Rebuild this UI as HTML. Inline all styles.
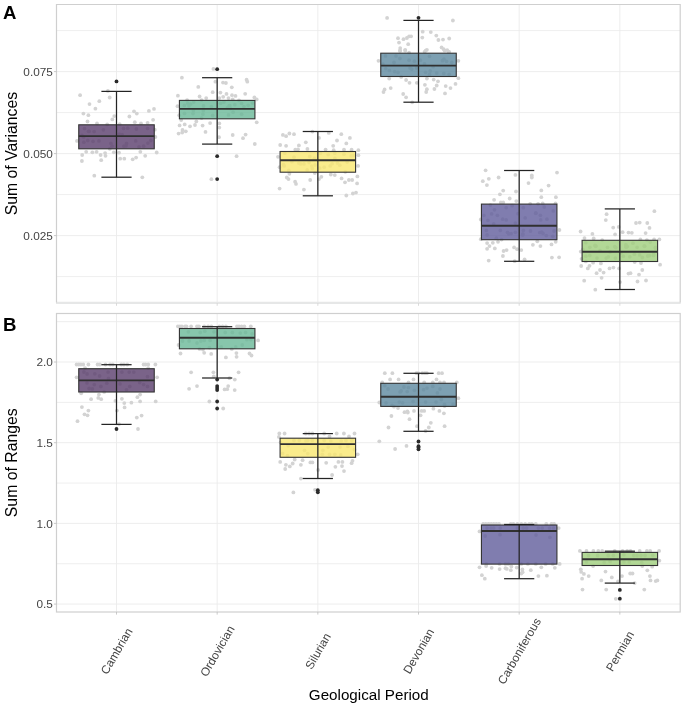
<!DOCTYPE html>
<html><head><meta charset="utf-8"><style>
html,body{margin:0;padding:0;background:#fff;overflow:hidden;width:685px;height:708px;}
svg{display:block;font-family:"Liberation Sans", sans-serif;will-change:transform;}
</style></head><body>
<svg width="685" height="708" viewBox="0 0 685 708">
<rect width="685" height="708" fill="#fff"/>
<line x1="56.5" x2="680.2" y1="276.60" y2="276.60" stroke="#eaeaea" stroke-width="0.8"/>
<line x1="56.5" x2="680.2" y1="194.60" y2="194.60" stroke="#eaeaea" stroke-width="0.8"/>
<line x1="56.5" x2="680.2" y1="112.60" y2="112.60" stroke="#eaeaea" stroke-width="0.8"/>
<line x1="56.5" x2="680.2" y1="30.60" y2="30.60" stroke="#eaeaea" stroke-width="0.8"/>
<line x1="56.5" x2="680.2" y1="235.60" y2="235.60" stroke="#ebebeb" stroke-width="0.9"/>
<line x1="56.5" x2="680.2" y1="153.60" y2="153.60" stroke="#ebebeb" stroke-width="0.9"/>
<line x1="56.5" x2="680.2" y1="71.60" y2="71.60" stroke="#ebebeb" stroke-width="0.9"/>
<line x1="116.50" x2="116.50" y1="4.5" y2="302.6" stroke="#ebebeb" stroke-width="0.9"/>
<line x1="217.17" x2="217.17" y1="4.5" y2="302.6" stroke="#ebebeb" stroke-width="0.9"/>
<line x1="317.84" x2="317.84" y1="4.5" y2="302.6" stroke="#ebebeb" stroke-width="0.9"/>
<line x1="418.51" x2="418.51" y1="4.5" y2="302.6" stroke="#ebebeb" stroke-width="0.9"/>
<line x1="519.18" x2="519.18" y1="4.5" y2="302.6" stroke="#ebebeb" stroke-width="0.9"/>
<line x1="619.85" x2="619.85" y1="4.5" y2="302.6" stroke="#ebebeb" stroke-width="0.9"/>
<circle cx="80.1" cy="95.2" r="1.9" fill="#d3d3d3"/>
<circle cx="107.9" cy="90.9" r="1.9" fill="#d3d3d3"/>
<circle cx="109.7" cy="97.5" r="1.9" fill="#d3d3d3"/>
<circle cx="99.3" cy="101.2" r="1.9" fill="#d3d3d3"/>
<circle cx="89.5" cy="104.1" r="1.9" fill="#d3d3d3"/>
<circle cx="95.4" cy="108.7" r="1.9" fill="#d3d3d3"/>
<circle cx="83.4" cy="113.6" r="1.9" fill="#d3d3d3"/>
<circle cx="88.4" cy="115.2" r="1.9" fill="#d3d3d3"/>
<circle cx="114.3" cy="116.1" r="1.9" fill="#d3d3d3"/>
<circle cx="112.3" cy="119.4" r="1.9" fill="#d3d3d3"/>
<circle cx="87.5" cy="121.5" r="1.9" fill="#d3d3d3"/>
<circle cx="97.0" cy="123.5" r="1.9" fill="#d3d3d3"/>
<circle cx="107.2" cy="124.4" r="1.9" fill="#d3d3d3"/>
<circle cx="119.7" cy="124.2" r="1.9" fill="#d3d3d3"/>
<circle cx="134.0" cy="111.3" r="1.9" fill="#d3d3d3"/>
<circle cx="136.8" cy="113.6" r="1.9" fill="#d3d3d3"/>
<circle cx="129.4" cy="116.5" r="1.9" fill="#d3d3d3"/>
<circle cx="148.9" cy="110.9" r="1.9" fill="#d3d3d3"/>
<circle cx="154.0" cy="108.9" r="1.9" fill="#d3d3d3"/>
<circle cx="153.1" cy="119.8" r="1.9" fill="#d3d3d3"/>
<circle cx="134.8" cy="122.2" r="1.9" fill="#d3d3d3"/>
<circle cx="141.0" cy="123.4" r="1.9" fill="#d3d3d3"/>
<circle cx="147.6" cy="122.8" r="1.9" fill="#d3d3d3"/>
<circle cx="154.8" cy="129.7" r="1.9" fill="#d3d3d3"/>
<circle cx="89.1" cy="131.3" r="1.9" fill="#d3d3d3"/>
<circle cx="94.1" cy="131.6" r="1.9" fill="#d3d3d3"/>
<circle cx="123.6" cy="128.4" r="1.9" fill="#d3d3d3"/>
<circle cx="136.4" cy="129.0" r="1.9" fill="#d3d3d3"/>
<circle cx="147.6" cy="128.4" r="1.9" fill="#d3d3d3"/>
<circle cx="77.0" cy="140.9" r="1.9" fill="#d3d3d3"/>
<circle cx="86.2" cy="151.8" r="1.9" fill="#d3d3d3"/>
<circle cx="82.2" cy="155.0" r="1.9" fill="#d3d3d3"/>
<circle cx="92.4" cy="152.3" r="1.9" fill="#d3d3d3"/>
<circle cx="96.6" cy="151.8" r="1.9" fill="#d3d3d3"/>
<circle cx="100.6" cy="155.0" r="1.9" fill="#d3d3d3"/>
<circle cx="105.1" cy="153.1" r="1.9" fill="#d3d3d3"/>
<circle cx="105.5" cy="155.8" r="1.9" fill="#d3d3d3"/>
<circle cx="113.8" cy="152.3" r="1.9" fill="#d3d3d3"/>
<circle cx="119.0" cy="152.7" r="1.9" fill="#d3d3d3"/>
<circle cx="81.9" cy="161.0" r="1.9" fill="#d3d3d3"/>
<circle cx="101.2" cy="160.2" r="1.9" fill="#d3d3d3"/>
<circle cx="120.2" cy="158.7" r="1.9" fill="#d3d3d3"/>
<circle cx="124.3" cy="158.7" r="1.9" fill="#d3d3d3"/>
<circle cx="132.7" cy="159.3" r="1.9" fill="#d3d3d3"/>
<circle cx="136.1" cy="157.6" r="1.9" fill="#d3d3d3"/>
<circle cx="140.3" cy="151.8" r="1.9" fill="#d3d3d3"/>
<circle cx="145.2" cy="155.8" r="1.9" fill="#d3d3d3"/>
<circle cx="156.7" cy="152.5" r="1.9" fill="#d3d3d3"/>
<circle cx="155.4" cy="137.0" r="1.9" fill="#d3d3d3"/>
<circle cx="94.3" cy="175.7" r="1.9" fill="#d3d3d3"/>
<circle cx="142.3" cy="177.3" r="1.9" fill="#d3d3d3"/>
<circle cx="109.8" cy="148.8" r="1.9" fill="#d3d3d3"/>
<circle cx="83.8" cy="142.2" r="1.9" fill="#d3d3d3"/>
<circle cx="87.8" cy="140.5" r="1.9" fill="#d3d3d3"/>
<circle cx="93.0" cy="141.3" r="1.9" fill="#d3d3d3"/>
<circle cx="98.9" cy="140.9" r="1.9" fill="#d3d3d3"/>
<circle cx="112.1" cy="146.2" r="1.9" fill="#d3d3d3"/>
<circle cx="123.9" cy="146.2" r="1.9" fill="#d3d3d3"/>
<circle cx="126.5" cy="143.5" r="1.9" fill="#d3d3d3"/>
<circle cx="135.7" cy="140.9" r="1.9" fill="#d3d3d3"/>
<circle cx="139.0" cy="146.8" r="1.9" fill="#d3d3d3"/>
<circle cx="143.6" cy="146.2" r="1.9" fill="#d3d3d3"/>
<circle cx="147.9" cy="143.1" r="1.9" fill="#d3d3d3"/>
<circle cx="150.8" cy="140.5" r="1.9" fill="#d3d3d3"/>
<circle cx="103.4" cy="129.8" r="1.9" fill="#d3d3d3"/>
<circle cx="127.7" cy="128.2" r="1.9" fill="#d3d3d3"/>
<circle cx="119.2" cy="134.1" r="1.9" fill="#d3d3d3"/>
<circle cx="83.6" cy="136.9" r="1.9" fill="#d3d3d3"/>
<circle cx="82.0" cy="135.5" r="1.9" fill="#d3d3d3"/>
<circle cx="84.5" cy="128.6" r="1.9" fill="#d3d3d3"/>
<circle cx="110.9" cy="143.3" r="1.9" fill="#d3d3d3"/>
<circle cx="88.5" cy="131.3" r="1.9" fill="#d3d3d3"/>
<circle cx="126.0" cy="145.8" r="1.9" fill="#d3d3d3"/>
<circle cx="122.2" cy="134.7" r="1.9" fill="#d3d3d3"/>
<circle cx="213.4" cy="68.9" r="1.9" fill="#d3d3d3"/>
<circle cx="181.9" cy="77.7" r="1.9" fill="#d3d3d3"/>
<circle cx="215.4" cy="81.7" r="1.9" fill="#d3d3d3"/>
<circle cx="223.0" cy="82.6" r="1.9" fill="#d3d3d3"/>
<circle cx="225.9" cy="83.0" r="1.9" fill="#d3d3d3"/>
<circle cx="246.6" cy="79.7" r="1.9" fill="#d3d3d3"/>
<circle cx="247.3" cy="81.7" r="1.9" fill="#d3d3d3"/>
<circle cx="198.3" cy="86.9" r="1.9" fill="#d3d3d3"/>
<circle cx="231.8" cy="87.3" r="1.9" fill="#d3d3d3"/>
<circle cx="212.7" cy="92.2" r="1.9" fill="#d3d3d3"/>
<circle cx="220.4" cy="92.6" r="1.9" fill="#d3d3d3"/>
<circle cx="226.5" cy="93.9" r="1.9" fill="#d3d3d3"/>
<circle cx="232.0" cy="95.2" r="1.9" fill="#d3d3d3"/>
<circle cx="235.5" cy="95.9" r="1.9" fill="#d3d3d3"/>
<circle cx="245.2" cy="93.8" r="1.9" fill="#d3d3d3"/>
<circle cx="177.9" cy="95.7" r="1.9" fill="#d3d3d3"/>
<circle cx="199.6" cy="96.5" r="1.9" fill="#d3d3d3"/>
<circle cx="206.2" cy="98.1" r="1.9" fill="#d3d3d3"/>
<circle cx="223.2" cy="96.8" r="1.9" fill="#d3d3d3"/>
<circle cx="228.5" cy="98.1" r="1.9" fill="#d3d3d3"/>
<circle cx="219.3" cy="98.1" r="1.9" fill="#d3d3d3"/>
<circle cx="254.4" cy="97.4" r="1.9" fill="#d3d3d3"/>
<circle cx="256.7" cy="99.4" r="1.9" fill="#d3d3d3"/>
<circle cx="187.1" cy="100.1" r="1.9" fill="#d3d3d3"/>
<circle cx="201.6" cy="100.1" r="1.9" fill="#d3d3d3"/>
<circle cx="232.7" cy="99.4" r="1.9" fill="#d3d3d3"/>
<circle cx="239.0" cy="100.3" r="1.9" fill="#d3d3d3"/>
<circle cx="177.5" cy="106.2" r="1.9" fill="#d3d3d3"/>
<circle cx="187.8" cy="103.4" r="1.9" fill="#d3d3d3"/>
<circle cx="193.7" cy="102.0" r="1.9" fill="#d3d3d3"/>
<circle cx="203.5" cy="106.0" r="1.9" fill="#d3d3d3"/>
<circle cx="211.4" cy="106.6" r="1.9" fill="#d3d3d3"/>
<circle cx="223.9" cy="102.0" r="1.9" fill="#d3d3d3"/>
<circle cx="229.2" cy="105.7" r="1.9" fill="#d3d3d3"/>
<circle cx="234.8" cy="104.7" r="1.9" fill="#d3d3d3"/>
<circle cx="241.6" cy="103.4" r="1.9" fill="#d3d3d3"/>
<circle cx="248.2" cy="105.3" r="1.9" fill="#d3d3d3"/>
<circle cx="179.2" cy="115.2" r="1.9" fill="#d3d3d3"/>
<circle cx="181.2" cy="120.1" r="1.9" fill="#d3d3d3"/>
<circle cx="196.3" cy="121.4" r="1.9" fill="#d3d3d3"/>
<circle cx="201.6" cy="118.1" r="1.9" fill="#d3d3d3"/>
<circle cx="179.6" cy="125.4" r="1.9" fill="#d3d3d3"/>
<circle cx="184.7" cy="124.4" r="1.9" fill="#d3d3d3"/>
<circle cx="190.0" cy="126.3" r="1.9" fill="#d3d3d3"/>
<circle cx="195.0" cy="125.0" r="1.9" fill="#d3d3d3"/>
<circle cx="202.6" cy="125.6" r="1.9" fill="#d3d3d3"/>
<circle cx="210.1" cy="123.1" r="1.9" fill="#d3d3d3"/>
<circle cx="219.3" cy="123.4" r="1.9" fill="#d3d3d3"/>
<circle cx="219.3" cy="127.6" r="1.9" fill="#d3d3d3"/>
<circle cx="182.5" cy="130.0" r="1.9" fill="#d3d3d3"/>
<circle cx="185.8" cy="131.3" r="1.9" fill="#d3d3d3"/>
<circle cx="178.6" cy="133.6" r="1.9" fill="#d3d3d3"/>
<circle cx="182.2" cy="132.6" r="1.9" fill="#d3d3d3"/>
<circle cx="205.5" cy="131.9" r="1.9" fill="#d3d3d3"/>
<circle cx="219.0" cy="137.2" r="1.9" fill="#d3d3d3"/>
<circle cx="232.7" cy="135.0" r="1.9" fill="#d3d3d3"/>
<circle cx="245.6" cy="134.6" r="1.9" fill="#d3d3d3"/>
<circle cx="243.0" cy="138.2" r="1.9" fill="#d3d3d3"/>
<circle cx="256.7" cy="122.3" r="1.9" fill="#d3d3d3"/>
<circle cx="254.8" cy="144.0" r="1.9" fill="#d3d3d3"/>
<circle cx="184.5" cy="113.5" r="1.9" fill="#d3d3d3"/>
<circle cx="193.0" cy="113.5" r="1.9" fill="#d3d3d3"/>
<circle cx="212.7" cy="115.5" r="1.9" fill="#d3d3d3"/>
<circle cx="228.5" cy="114.9" r="1.9" fill="#d3d3d3"/>
<circle cx="233.1" cy="112.2" r="1.9" fill="#d3d3d3"/>
<circle cx="241.6" cy="114.2" r="1.9" fill="#d3d3d3"/>
<circle cx="189.0" cy="106.0" r="1.9" fill="#d3d3d3"/>
<circle cx="229.8" cy="105.7" r="1.9" fill="#d3d3d3"/>
<circle cx="236.6" cy="156.2" r="1.9" fill="#d3d3d3"/>
<circle cx="211.4" cy="179.2" r="1.9" fill="#d3d3d3"/>
<circle cx="252.6" cy="103.1" r="1.9" fill="#d3d3d3"/>
<circle cx="243.9" cy="106.6" r="1.9" fill="#d3d3d3"/>
<circle cx="190.7" cy="104.1" r="1.9" fill="#d3d3d3"/>
<circle cx="202.9" cy="114.2" r="1.9" fill="#d3d3d3"/>
<circle cx="193.4" cy="110.8" r="1.9" fill="#d3d3d3"/>
<circle cx="227.5" cy="107.8" r="1.9" fill="#d3d3d3"/>
<circle cx="220.7" cy="103.3" r="1.9" fill="#d3d3d3"/>
<circle cx="184.4" cy="105.4" r="1.9" fill="#d3d3d3"/>
<circle cx="230.6" cy="108.6" r="1.9" fill="#d3d3d3"/>
<circle cx="203.3" cy="110.8" r="1.9" fill="#d3d3d3"/>
<circle cx="282.9" cy="134.9" r="1.9" fill="#d3d3d3"/>
<circle cx="286.1" cy="136.2" r="1.9" fill="#d3d3d3"/>
<circle cx="289.4" cy="133.5" r="1.9" fill="#d3d3d3"/>
<circle cx="294.0" cy="134.2" r="1.9" fill="#d3d3d3"/>
<circle cx="312.4" cy="131.6" r="1.9" fill="#d3d3d3"/>
<circle cx="328.8" cy="132.9" r="1.9" fill="#d3d3d3"/>
<circle cx="341.3" cy="134.2" r="1.9" fill="#d3d3d3"/>
<circle cx="319.0" cy="137.9" r="1.9" fill="#d3d3d3"/>
<circle cx="349.9" cy="137.9" r="1.9" fill="#d3d3d3"/>
<circle cx="305.8" cy="142.3" r="1.9" fill="#d3d3d3"/>
<circle cx="337.0" cy="140.5" r="1.9" fill="#d3d3d3"/>
<circle cx="346.3" cy="143.4" r="1.9" fill="#d3d3d3"/>
<circle cx="280.2" cy="145.0" r="1.9" fill="#d3d3d3"/>
<circle cx="286.1" cy="145.8" r="1.9" fill="#d3d3d3"/>
<circle cx="298.9" cy="145.4" r="1.9" fill="#d3d3d3"/>
<circle cx="333.2" cy="145.8" r="1.9" fill="#d3d3d3"/>
<circle cx="295.3" cy="149.7" r="1.9" fill="#d3d3d3"/>
<circle cx="298.0" cy="149.3" r="1.9" fill="#d3d3d3"/>
<circle cx="307.4" cy="148.9" r="1.9" fill="#d3d3d3"/>
<circle cx="325.6" cy="149.6" r="1.9" fill="#d3d3d3"/>
<circle cx="333.7" cy="150.2" r="1.9" fill="#d3d3d3"/>
<circle cx="344.0" cy="149.7" r="1.9" fill="#d3d3d3"/>
<circle cx="351.6" cy="149.7" r="1.9" fill="#d3d3d3"/>
<circle cx="358.4" cy="150.2" r="1.9" fill="#d3d3d3"/>
<circle cx="278.0" cy="156.8" r="1.9" fill="#d3d3d3"/>
<circle cx="358.4" cy="155.2" r="1.9" fill="#d3d3d3"/>
<circle cx="284.8" cy="153.2" r="1.9" fill="#d3d3d3"/>
<circle cx="294.0" cy="157.2" r="1.9" fill="#d3d3d3"/>
<circle cx="309.8" cy="156.5" r="1.9" fill="#d3d3d3"/>
<circle cx="320.3" cy="153.2" r="1.9" fill="#d3d3d3"/>
<circle cx="328.2" cy="154.6" r="1.9" fill="#d3d3d3"/>
<circle cx="334.8" cy="153.2" r="1.9" fill="#d3d3d3"/>
<circle cx="344.0" cy="154.2" r="1.9" fill="#d3d3d3"/>
<circle cx="351.2" cy="155.9" r="1.9" fill="#d3d3d3"/>
<circle cx="279.6" cy="167.2" r="1.9" fill="#d3d3d3"/>
<circle cx="284.2" cy="165.9" r="1.9" fill="#d3d3d3"/>
<circle cx="288.8" cy="170.5" r="1.9" fill="#d3d3d3"/>
<circle cx="289.4" cy="173.8" r="1.9" fill="#d3d3d3"/>
<circle cx="286.8" cy="177.5" r="1.9" fill="#d3d3d3"/>
<circle cx="288.5" cy="179.1" r="1.9" fill="#d3d3d3"/>
<circle cx="295.1" cy="181.7" r="1.9" fill="#d3d3d3"/>
<circle cx="296.0" cy="183.9" r="1.9" fill="#d3d3d3"/>
<circle cx="279.6" cy="188.6" r="1.9" fill="#d3d3d3"/>
<circle cx="303.9" cy="189.6" r="1.9" fill="#d3d3d3"/>
<circle cx="310.2" cy="180.0" r="1.9" fill="#d3d3d3"/>
<circle cx="314.8" cy="173.1" r="1.9" fill="#d3d3d3"/>
<circle cx="321.4" cy="176.8" r="1.9" fill="#d3d3d3"/>
<circle cx="319.0" cy="179.1" r="1.9" fill="#d3d3d3"/>
<circle cx="312.4" cy="168.5" r="1.9" fill="#d3d3d3"/>
<circle cx="330.8" cy="174.5" r="1.9" fill="#d3d3d3"/>
<circle cx="334.8" cy="175.1" r="1.9" fill="#d3d3d3"/>
<circle cx="341.6" cy="178.4" r="1.9" fill="#d3d3d3"/>
<circle cx="345.0" cy="182.3" r="1.9" fill="#d3d3d3"/>
<circle cx="348.9" cy="180.0" r="1.9" fill="#d3d3d3"/>
<circle cx="352.2" cy="180.0" r="1.9" fill="#d3d3d3"/>
<circle cx="357.1" cy="183.4" r="1.9" fill="#d3d3d3"/>
<circle cx="357.4" cy="176.4" r="1.9" fill="#d3d3d3"/>
<circle cx="358.1" cy="165.9" r="1.9" fill="#d3d3d3"/>
<circle cx="346.3" cy="195.5" r="1.9" fill="#d3d3d3"/>
<circle cx="352.9" cy="193.5" r="1.9" fill="#d3d3d3"/>
<circle cx="356.0" cy="192.6" r="1.9" fill="#d3d3d3"/>
<circle cx="345.3" cy="171.8" r="1.9" fill="#d3d3d3"/>
<circle cx="300.6" cy="163.9" r="1.9" fill="#d3d3d3"/>
<circle cx="303.9" cy="163.9" r="1.9" fill="#d3d3d3"/>
<circle cx="309.1" cy="162.6" r="1.9" fill="#d3d3d3"/>
<circle cx="324.2" cy="167.2" r="1.9" fill="#d3d3d3"/>
<circle cx="330.2" cy="165.9" r="1.9" fill="#d3d3d3"/>
<circle cx="332.1" cy="163.7" r="1.9" fill="#d3d3d3"/>
<circle cx="347.2" cy="162.0" r="1.9" fill="#d3d3d3"/>
<circle cx="307.2" cy="169.9" r="1.9" fill="#d3d3d3"/>
<circle cx="315.0" cy="165.0" r="1.9" fill="#d3d3d3"/>
<circle cx="314.4" cy="158.5" r="1.9" fill="#d3d3d3"/>
<circle cx="339.8" cy="165.2" r="1.9" fill="#d3d3d3"/>
<circle cx="298.8" cy="163.1" r="1.9" fill="#d3d3d3"/>
<circle cx="319.7" cy="168.1" r="1.9" fill="#d3d3d3"/>
<circle cx="334.9" cy="158.3" r="1.9" fill="#d3d3d3"/>
<circle cx="353.6" cy="155.5" r="1.9" fill="#d3d3d3"/>
<circle cx="311.7" cy="166.1" r="1.9" fill="#d3d3d3"/>
<circle cx="291.9" cy="161.7" r="1.9" fill="#d3d3d3"/>
<circle cx="283.5" cy="164.7" r="1.9" fill="#d3d3d3"/>
<circle cx="337.5" cy="163.1" r="1.9" fill="#d3d3d3"/>
<circle cx="387.1" cy="17.9" r="1.9" fill="#d3d3d3"/>
<circle cx="452.9" cy="20.5" r="1.9" fill="#d3d3d3"/>
<circle cx="422.7" cy="31.7" r="1.9" fill="#d3d3d3"/>
<circle cx="430.8" cy="32.1" r="1.9" fill="#d3d3d3"/>
<circle cx="398.0" cy="38.2" r="1.9" fill="#d3d3d3"/>
<circle cx="403.5" cy="39.2" r="1.9" fill="#d3d3d3"/>
<circle cx="406.9" cy="38.0" r="1.9" fill="#d3d3d3"/>
<circle cx="409.1" cy="36.3" r="1.9" fill="#d3d3d3"/>
<circle cx="411.1" cy="36.3" r="1.9" fill="#d3d3d3"/>
<circle cx="422.3" cy="37.6" r="1.9" fill="#d3d3d3"/>
<circle cx="436.3" cy="35.6" r="1.9" fill="#d3d3d3"/>
<circle cx="438.4" cy="40.0" r="1.9" fill="#d3d3d3"/>
<circle cx="443.0" cy="39.6" r="1.9" fill="#d3d3d3"/>
<circle cx="449.2" cy="38.5" r="1.9" fill="#d3d3d3"/>
<circle cx="399.0" cy="42.6" r="1.9" fill="#d3d3d3"/>
<circle cx="408.2" cy="44.2" r="1.9" fill="#d3d3d3"/>
<circle cx="400.2" cy="48.1" r="1.9" fill="#d3d3d3"/>
<circle cx="400.2" cy="50.7" r="1.9" fill="#d3d3d3"/>
<circle cx="405.2" cy="49.8" r="1.9" fill="#d3d3d3"/>
<circle cx="409.1" cy="52.7" r="1.9" fill="#d3d3d3"/>
<circle cx="426.9" cy="49.8" r="1.9" fill="#d3d3d3"/>
<circle cx="424.6" cy="51.8" r="1.9" fill="#d3d3d3"/>
<circle cx="441.6" cy="47.4" r="1.9" fill="#d3d3d3"/>
<circle cx="443.7" cy="49.2" r="1.9" fill="#d3d3d3"/>
<circle cx="447.2" cy="50.1" r="1.9" fill="#d3d3d3"/>
<circle cx="449.2" cy="51.8" r="1.9" fill="#d3d3d3"/>
<circle cx="378.5" cy="60.8" r="1.9" fill="#d3d3d3"/>
<circle cx="458.4" cy="60.8" r="1.9" fill="#d3d3d3"/>
<circle cx="389.2" cy="78.6" r="1.9" fill="#d3d3d3"/>
<circle cx="401.2" cy="76.9" r="1.9" fill="#d3d3d3"/>
<circle cx="406.1" cy="80.0" r="1.9" fill="#d3d3d3"/>
<circle cx="409.5" cy="82.8" r="1.9" fill="#d3d3d3"/>
<circle cx="416.8" cy="82.8" r="1.9" fill="#d3d3d3"/>
<circle cx="426.9" cy="78.6" r="1.9" fill="#d3d3d3"/>
<circle cx="433.7" cy="79.6" r="1.9" fill="#d3d3d3"/>
<circle cx="438.0" cy="81.3" r="1.9" fill="#d3d3d3"/>
<circle cx="424.9" cy="84.8" r="1.9" fill="#d3d3d3"/>
<circle cx="436.7" cy="85.5" r="1.9" fill="#d3d3d3"/>
<circle cx="445.7" cy="86.1" r="1.9" fill="#d3d3d3"/>
<circle cx="455.5" cy="83.9" r="1.9" fill="#d3d3d3"/>
<circle cx="458.4" cy="78.2" r="1.9" fill="#d3d3d3"/>
<circle cx="390.7" cy="88.1" r="1.9" fill="#d3d3d3"/>
<circle cx="384.6" cy="89.4" r="1.9" fill="#d3d3d3"/>
<circle cx="383.5" cy="92.0" r="1.9" fill="#d3d3d3"/>
<circle cx="403.2" cy="94.0" r="1.9" fill="#d3d3d3"/>
<circle cx="406.1" cy="97.3" r="1.9" fill="#d3d3d3"/>
<circle cx="426.9" cy="89.2" r="1.9" fill="#d3d3d3"/>
<circle cx="426.2" cy="92.0" r="1.9" fill="#d3d3d3"/>
<circle cx="434.4" cy="89.0" r="1.9" fill="#d3d3d3"/>
<circle cx="450.5" cy="88.1" r="1.9" fill="#d3d3d3"/>
<circle cx="445.0" cy="93.4" r="1.9" fill="#d3d3d3"/>
<circle cx="412.2" cy="102.3" r="1.9" fill="#d3d3d3"/>
<circle cx="385.5" cy="55.9" r="1.9" fill="#d3d3d3"/>
<circle cx="396.0" cy="55.9" r="1.9" fill="#d3d3d3"/>
<circle cx="399.9" cy="58.5" r="1.9" fill="#d3d3d3"/>
<circle cx="394.0" cy="62.5" r="1.9" fill="#d3d3d3"/>
<circle cx="409.1" cy="60.2" r="1.9" fill="#d3d3d3"/>
<circle cx="414.4" cy="61.2" r="1.9" fill="#d3d3d3"/>
<circle cx="420.3" cy="60.2" r="1.9" fill="#d3d3d3"/>
<circle cx="429.5" cy="56.3" r="1.9" fill="#d3d3d3"/>
<circle cx="443.9" cy="59.2" r="1.9" fill="#d3d3d3"/>
<circle cx="451.8" cy="62.5" r="1.9" fill="#d3d3d3"/>
<circle cx="389.4" cy="70.4" r="1.9" fill="#d3d3d3"/>
<circle cx="394.7" cy="71.7" r="1.9" fill="#d3d3d3"/>
<circle cx="398.0" cy="72.3" r="1.9" fill="#d3d3d3"/>
<circle cx="411.8" cy="69.1" r="1.9" fill="#d3d3d3"/>
<circle cx="425.6" cy="72.3" r="1.9" fill="#d3d3d3"/>
<circle cx="430.2" cy="71.0" r="1.9" fill="#d3d3d3"/>
<circle cx="436.7" cy="73.0" r="1.9" fill="#d3d3d3"/>
<circle cx="449.2" cy="74.3" r="1.9" fill="#d3d3d3"/>
<circle cx="399.9" cy="50.7" r="1.9" fill="#d3d3d3"/>
<circle cx="405.2" cy="50.7" r="1.9" fill="#d3d3d3"/>
<circle cx="425.6" cy="50.7" r="1.9" fill="#d3d3d3"/>
<circle cx="444.6" cy="50.7" r="1.9" fill="#d3d3d3"/>
<circle cx="448.5" cy="52.0" r="1.9" fill="#d3d3d3"/>
<circle cx="446.5" cy="61.3" r="1.9" fill="#d3d3d3"/>
<circle cx="433.1" cy="66.7" r="1.9" fill="#d3d3d3"/>
<circle cx="424.5" cy="64.0" r="1.9" fill="#d3d3d3"/>
<circle cx="443.8" cy="73.4" r="1.9" fill="#d3d3d3"/>
<circle cx="416.6" cy="68.0" r="1.9" fill="#d3d3d3"/>
<circle cx="385.8" cy="68.7" r="1.9" fill="#d3d3d3"/>
<circle cx="429.5" cy="74.4" r="1.9" fill="#d3d3d3"/>
<circle cx="442.5" cy="60.7" r="1.9" fill="#d3d3d3"/>
<circle cx="410.0" cy="68.1" r="1.9" fill="#d3d3d3"/>
<circle cx="382.9" cy="64.1" r="1.9" fill="#d3d3d3"/>
<circle cx="485.6" cy="170.3" r="1.9" fill="#d3d3d3"/>
<circle cx="488.8" cy="178.8" r="1.9" fill="#d3d3d3"/>
<circle cx="482.8" cy="181.2" r="1.9" fill="#d3d3d3"/>
<circle cx="486.9" cy="185.1" r="1.9" fill="#d3d3d3"/>
<circle cx="498.6" cy="177.5" r="1.9" fill="#d3d3d3"/>
<circle cx="515.4" cy="174.9" r="1.9" fill="#d3d3d3"/>
<circle cx="531.8" cy="175.5" r="1.9" fill="#d3d3d3"/>
<circle cx="531.8" cy="177.5" r="1.9" fill="#d3d3d3"/>
<circle cx="557.0" cy="172.6" r="1.9" fill="#d3d3d3"/>
<circle cx="528.5" cy="183.1" r="1.9" fill="#d3d3d3"/>
<circle cx="548.6" cy="185.6" r="1.9" fill="#d3d3d3"/>
<circle cx="503.2" cy="190.6" r="1.9" fill="#d3d3d3"/>
<circle cx="499.9" cy="194.3" r="1.9" fill="#d3d3d3"/>
<circle cx="516.0" cy="191.5" r="1.9" fill="#d3d3d3"/>
<circle cx="541.3" cy="190.4" r="1.9" fill="#d3d3d3"/>
<circle cx="541.3" cy="197.2" r="1.9" fill="#d3d3d3"/>
<circle cx="555.9" cy="197.2" r="1.9" fill="#d3d3d3"/>
<circle cx="494.1" cy="199.8" r="1.9" fill="#d3d3d3"/>
<circle cx="509.7" cy="198.5" r="1.9" fill="#d3d3d3"/>
<circle cx="516.3" cy="201.1" r="1.9" fill="#d3d3d3"/>
<circle cx="500.9" cy="202.4" r="1.9" fill="#d3d3d3"/>
<circle cx="503.2" cy="202.4" r="1.9" fill="#d3d3d3"/>
<circle cx="530.2" cy="203.8" r="1.9" fill="#d3d3d3"/>
<circle cx="538.1" cy="203.8" r="1.9" fill="#d3d3d3"/>
<circle cx="542.7" cy="203.5" r="1.9" fill="#d3d3d3"/>
<circle cx="555.5" cy="203.5" r="1.9" fill="#d3d3d3"/>
<circle cx="506.2" cy="207.7" r="1.9" fill="#d3d3d3"/>
<circle cx="512.1" cy="205.7" r="1.9" fill="#d3d3d3"/>
<circle cx="523.3" cy="207.7" r="1.9" fill="#d3d3d3"/>
<circle cx="544.3" cy="207.0" r="1.9" fill="#d3d3d3"/>
<circle cx="535.8" cy="213.0" r="1.9" fill="#d3d3d3"/>
<circle cx="490.4" cy="205.1" r="1.9" fill="#d3d3d3"/>
<circle cx="480.8" cy="219.5" r="1.9" fill="#d3d3d3"/>
<circle cx="559.4" cy="230.0" r="1.9" fill="#d3d3d3"/>
<circle cx="480.8" cy="239.2" r="1.9" fill="#d3d3d3"/>
<circle cx="487.1" cy="243.1" r="1.9" fill="#d3d3d3"/>
<circle cx="489.5" cy="246.1" r="1.9" fill="#d3d3d3"/>
<circle cx="487.1" cy="248.8" r="1.9" fill="#d3d3d3"/>
<circle cx="492.8" cy="242.8" r="1.9" fill="#d3d3d3"/>
<circle cx="498.0" cy="241.8" r="1.9" fill="#d3d3d3"/>
<circle cx="501.6" cy="239.6" r="1.9" fill="#d3d3d3"/>
<circle cx="494.8" cy="248.4" r="1.9" fill="#d3d3d3"/>
<circle cx="503.6" cy="251.0" r="1.9" fill="#d3d3d3"/>
<circle cx="506.6" cy="250.1" r="1.9" fill="#d3d3d3"/>
<circle cx="502.9" cy="256.0" r="1.9" fill="#d3d3d3"/>
<circle cx="514.1" cy="247.4" r="1.9" fill="#d3d3d3"/>
<circle cx="517.1" cy="249.2" r="1.9" fill="#d3d3d3"/>
<circle cx="521.3" cy="250.1" r="1.9" fill="#d3d3d3"/>
<circle cx="488.7" cy="260.6" r="1.9" fill="#d3d3d3"/>
<circle cx="514.7" cy="261.2" r="1.9" fill="#d3d3d3"/>
<circle cx="524.6" cy="259.3" r="1.9" fill="#d3d3d3"/>
<circle cx="532.9" cy="244.8" r="1.9" fill="#d3d3d3"/>
<circle cx="537.3" cy="241.3" r="1.9" fill="#d3d3d3"/>
<circle cx="540.4" cy="246.1" r="1.9" fill="#d3d3d3"/>
<circle cx="551.5" cy="244.4" r="1.9" fill="#d3d3d3"/>
<circle cx="555.7" cy="241.8" r="1.9" fill="#d3d3d3"/>
<circle cx="551.9" cy="257.6" r="1.9" fill="#d3d3d3"/>
<circle cx="559.1" cy="257.3" r="1.9" fill="#d3d3d3"/>
<circle cx="483.9" cy="215.3" r="1.9" fill="#d3d3d3"/>
<circle cx="497.4" cy="215.3" r="1.9" fill="#d3d3d3"/>
<circle cx="506.2" cy="219.9" r="1.9" fill="#d3d3d3"/>
<circle cx="518.0" cy="213.7" r="1.9" fill="#d3d3d3"/>
<circle cx="525.2" cy="217.9" r="1.9" fill="#d3d3d3"/>
<circle cx="535.8" cy="213.3" r="1.9" fill="#d3d3d3"/>
<circle cx="540.4" cy="215.3" r="1.9" fill="#d3d3d3"/>
<circle cx="540.7" cy="219.9" r="1.9" fill="#d3d3d3"/>
<circle cx="546.9" cy="219.2" r="1.9" fill="#d3d3d3"/>
<circle cx="493.7" cy="223.8" r="1.9" fill="#d3d3d3"/>
<circle cx="515.4" cy="223.1" r="1.9" fill="#d3d3d3"/>
<circle cx="500.3" cy="230.4" r="1.9" fill="#d3d3d3"/>
<circle cx="507.5" cy="232.3" r="1.9" fill="#d3d3d3"/>
<circle cx="515.4" cy="232.3" r="1.9" fill="#d3d3d3"/>
<circle cx="523.3" cy="230.4" r="1.9" fill="#d3d3d3"/>
<circle cx="530.5" cy="231.0" r="1.9" fill="#d3d3d3"/>
<circle cx="539.7" cy="232.6" r="1.9" fill="#d3d3d3"/>
<circle cx="541.7" cy="232.1" r="1.9" fill="#d3d3d3"/>
<circle cx="554.1" cy="231.0" r="1.9" fill="#d3d3d3"/>
<circle cx="487.1" cy="235.0" r="1.9" fill="#d3d3d3"/>
<circle cx="522.6" cy="235.0" r="1.9" fill="#d3d3d3"/>
<circle cx="546.3" cy="235.6" r="1.9" fill="#d3d3d3"/>
<circle cx="552.8" cy="236.3" r="1.9" fill="#d3d3d3"/>
<circle cx="496.3" cy="238.2" r="1.9" fill="#d3d3d3"/>
<circle cx="494.5" cy="209.8" r="1.9" fill="#d3d3d3"/>
<circle cx="486.3" cy="230.4" r="1.9" fill="#d3d3d3"/>
<circle cx="491.6" cy="213.9" r="1.9" fill="#d3d3d3"/>
<circle cx="511.1" cy="233.6" r="1.9" fill="#d3d3d3"/>
<circle cx="487.9" cy="220.3" r="1.9" fill="#d3d3d3"/>
<circle cx="522.9" cy="234.0" r="1.9" fill="#d3d3d3"/>
<circle cx="543.0" cy="233.4" r="1.9" fill="#d3d3d3"/>
<circle cx="502.7" cy="219.2" r="1.9" fill="#d3d3d3"/>
<circle cx="508.7" cy="234.0" r="1.9" fill="#d3d3d3"/>
<circle cx="553.3" cy="210.9" r="1.9" fill="#d3d3d3"/>
<circle cx="606.6" cy="214.2" r="1.9" fill="#d3d3d3"/>
<circle cx="654.4" cy="211.2" r="1.9" fill="#d3d3d3"/>
<circle cx="605.8" cy="220.1" r="1.9" fill="#d3d3d3"/>
<circle cx="636.0" cy="223.0" r="1.9" fill="#d3d3d3"/>
<circle cx="639.7" cy="222.6" r="1.9" fill="#d3d3d3"/>
<circle cx="647.3" cy="223.0" r="1.9" fill="#d3d3d3"/>
<circle cx="649.5" cy="227.9" r="1.9" fill="#d3d3d3"/>
<circle cx="613.2" cy="227.6" r="1.9" fill="#d3d3d3"/>
<circle cx="618.7" cy="226.9" r="1.9" fill="#d3d3d3"/>
<circle cx="580.6" cy="231.5" r="1.9" fill="#d3d3d3"/>
<circle cx="592.4" cy="233.9" r="1.9" fill="#d3d3d3"/>
<circle cx="615.1" cy="234.4" r="1.9" fill="#d3d3d3"/>
<circle cx="622.6" cy="232.2" r="1.9" fill="#d3d3d3"/>
<circle cx="628.5" cy="232.6" r="1.9" fill="#d3d3d3"/>
<circle cx="631.8" cy="232.8" r="1.9" fill="#d3d3d3"/>
<circle cx="645.6" cy="233.1" r="1.9" fill="#d3d3d3"/>
<circle cx="584.5" cy="238.1" r="1.9" fill="#d3d3d3"/>
<circle cx="593.7" cy="238.4" r="1.9" fill="#d3d3d3"/>
<circle cx="602.2" cy="240.1" r="1.9" fill="#d3d3d3"/>
<circle cx="640.4" cy="239.4" r="1.9" fill="#d3d3d3"/>
<circle cx="646.9" cy="240.1" r="1.9" fill="#d3d3d3"/>
<circle cx="654.1" cy="239.4" r="1.9" fill="#d3d3d3"/>
<circle cx="659.4" cy="239.4" r="1.9" fill="#d3d3d3"/>
<circle cx="585.8" cy="242.7" r="1.9" fill="#d3d3d3"/>
<circle cx="595.0" cy="245.3" r="1.9" fill="#d3d3d3"/>
<circle cx="589.8" cy="247.3" r="1.9" fill="#d3d3d3"/>
<circle cx="607.5" cy="247.3" r="1.9" fill="#d3d3d3"/>
<circle cx="614.7" cy="246.6" r="1.9" fill="#d3d3d3"/>
<circle cx="625.9" cy="244.7" r="1.9" fill="#d3d3d3"/>
<circle cx="627.2" cy="246.6" r="1.9" fill="#d3d3d3"/>
<circle cx="637.1" cy="247.3" r="1.9" fill="#d3d3d3"/>
<circle cx="644.3" cy="246.0" r="1.9" fill="#d3d3d3"/>
<circle cx="650.2" cy="242.0" r="1.9" fill="#d3d3d3"/>
<circle cx="655.5" cy="247.3" r="1.9" fill="#d3d3d3"/>
<circle cx="580.8" cy="251.6" r="1.9" fill="#d3d3d3"/>
<circle cx="581.6" cy="258.8" r="1.9" fill="#d3d3d3"/>
<circle cx="581.2" cy="266.0" r="1.9" fill="#d3d3d3"/>
<circle cx="585.8" cy="261.4" r="1.9" fill="#d3d3d3"/>
<circle cx="589.5" cy="265.8" r="1.9" fill="#d3d3d3"/>
<circle cx="587.8" cy="268.4" r="1.9" fill="#d3d3d3"/>
<circle cx="593.1" cy="262.7" r="1.9" fill="#d3d3d3"/>
<circle cx="600.9" cy="263.4" r="1.9" fill="#d3d3d3"/>
<circle cx="600.0" cy="270.0" r="1.9" fill="#d3d3d3"/>
<circle cx="603.6" cy="272.6" r="1.9" fill="#d3d3d3"/>
<circle cx="596.6" cy="273.2" r="1.9" fill="#d3d3d3"/>
<circle cx="601.6" cy="277.8" r="1.9" fill="#d3d3d3"/>
<circle cx="584.2" cy="280.7" r="1.9" fill="#d3d3d3"/>
<circle cx="609.5" cy="268.4" r="1.9" fill="#d3d3d3"/>
<circle cx="613.4" cy="267.6" r="1.9" fill="#d3d3d3"/>
<circle cx="619.1" cy="268.4" r="1.9" fill="#d3d3d3"/>
<circle cx="620.0" cy="282.1" r="1.9" fill="#d3d3d3"/>
<circle cx="595.3" cy="289.7" r="1.9" fill="#d3d3d3"/>
<circle cx="628.5" cy="273.6" r="1.9" fill="#d3d3d3"/>
<circle cx="630.5" cy="273.2" r="1.9" fill="#d3d3d3"/>
<circle cx="634.7" cy="262.1" r="1.9" fill="#d3d3d3"/>
<circle cx="641.0" cy="263.1" r="1.9" fill="#d3d3d3"/>
<circle cx="642.3" cy="270.0" r="1.9" fill="#d3d3d3"/>
<circle cx="639.0" cy="274.6" r="1.9" fill="#d3d3d3"/>
<circle cx="637.5" cy="281.5" r="1.9" fill="#d3d3d3"/>
<circle cx="646.0" cy="280.5" r="1.9" fill="#d3d3d3"/>
<circle cx="660.1" cy="264.7" r="1.9" fill="#d3d3d3"/>
<circle cx="595.7" cy="245.7" r="1.9" fill="#d3d3d3"/>
<circle cx="615.8" cy="247.6" r="1.9" fill="#d3d3d3"/>
<circle cx="625.9" cy="247.0" r="1.9" fill="#d3d3d3"/>
<circle cx="644.7" cy="246.3" r="1.9" fill="#d3d3d3"/>
<circle cx="655.5" cy="248.3" r="1.9" fill="#d3d3d3"/>
<circle cx="585.8" cy="256.2" r="1.9" fill="#d3d3d3"/>
<circle cx="589.8" cy="255.5" r="1.9" fill="#d3d3d3"/>
<circle cx="597.0" cy="258.1" r="1.9" fill="#d3d3d3"/>
<circle cx="606.2" cy="258.1" r="1.9" fill="#d3d3d3"/>
<circle cx="608.4" cy="256.8" r="1.9" fill="#d3d3d3"/>
<circle cx="615.4" cy="258.1" r="1.9" fill="#d3d3d3"/>
<circle cx="623.3" cy="256.2" r="1.9" fill="#d3d3d3"/>
<circle cx="629.8" cy="256.8" r="1.9" fill="#d3d3d3"/>
<circle cx="634.4" cy="254.2" r="1.9" fill="#d3d3d3"/>
<circle cx="639.7" cy="254.9" r="1.9" fill="#d3d3d3"/>
<circle cx="642.3" cy="257.5" r="1.9" fill="#d3d3d3"/>
<circle cx="653.5" cy="255.5" r="1.9" fill="#d3d3d3"/>
<circle cx="595.7" cy="246.3" r="1.9" fill="#d3d3d3"/>
<circle cx="600.0" cy="250.6" r="1.9" fill="#d3d3d3"/>
<circle cx="626.5" cy="246.8" r="1.9" fill="#d3d3d3"/>
<circle cx="582.9" cy="249.5" r="1.9" fill="#d3d3d3"/>
<circle cx="610.1" cy="252.0" r="1.9" fill="#d3d3d3"/>
<circle cx="653.6" cy="254.2" r="1.9" fill="#d3d3d3"/>
<circle cx="621.0" cy="252.9" r="1.9" fill="#d3d3d3"/>
<circle cx="633.0" cy="243.2" r="1.9" fill="#d3d3d3"/>
<circle cx="649.6" cy="255.7" r="1.9" fill="#d3d3d3"/>
<circle cx="647.7" cy="256.0" r="1.9" fill="#d3d3d3"/>
<rect x="78.75" y="124.80" width="75.50" height="24.00" fill="rgba(89,60,108,0.80)" stroke="#333" stroke-width="1.1"/>
<line x1="78.75" x2="154.25" y1="136.10" y2="136.10" stroke="#303030" stroke-width="1.9"/>
<circle cx="116.50" cy="81.40" r="1.9" fill="#2a2a2a"/>
<rect x="179.42" y="100.40" width="75.50" height="18.40" fill="rgba(105,184,151,0.80)" stroke="#333" stroke-width="1.1"/>
<line x1="179.42" x2="254.92" y1="108.90" y2="108.90" stroke="#303030" stroke-width="1.9"/>
<circle cx="217.17" cy="69.20" r="1.9" fill="#2a2a2a"/>
<circle cx="217.17" cy="156.20" r="1.9" fill="#2a2a2a"/>
<circle cx="217.17" cy="179.10" r="1.9" fill="#2a2a2a"/>
<rect x="280.09" y="151.50" width="75.50" height="20.70" fill="rgba(249,231,111,0.80)" stroke="#333" stroke-width="1.1"/>
<line x1="280.09" x2="355.59" y1="160.30" y2="160.30" stroke="#303030" stroke-width="1.9"/>
<rect x="380.76" y="53.20" width="75.50" height="23.30" fill="rgba(93,136,159,0.80)" stroke="#333" stroke-width="1.1"/>
<line x1="380.76" x2="456.26" y1="65.60" y2="65.60" stroke="#303030" stroke-width="1.9"/>
<circle cx="418.51" cy="17.80" r="1.9" fill="#2a2a2a"/>
<rect x="481.43" y="204.10" width="75.50" height="35.60" fill="rgba(96,93,155,0.80)" stroke="#333" stroke-width="1.1"/>
<line x1="481.43" x2="556.93" y1="225.70" y2="225.70" stroke="#303030" stroke-width="1.9"/>
<rect x="582.10" y="240.30" width="75.50" height="21.20" fill="rgba(159,206,124,0.80)" stroke="#333" stroke-width="1.1"/>
<line x1="582.10" x2="657.60" y1="251.80" y2="251.80" stroke="#303030" stroke-width="1.9"/>
<line x1="116.50" x2="116.50" y1="91.40" y2="177.20" stroke="#242424" stroke-width="1.25"/>
<line x1="101.40" x2="131.60" y1="91.40" y2="91.40" stroke="#242424" stroke-width="1.25"/>
<line x1="101.40" x2="131.60" y1="177.20" y2="177.20" stroke="#242424" stroke-width="1.25"/>
<line x1="217.17" x2="217.17" y1="77.70" y2="144.10" stroke="#242424" stroke-width="1.25"/>
<line x1="202.07" x2="232.27" y1="77.70" y2="77.70" stroke="#242424" stroke-width="1.25"/>
<line x1="202.07" x2="232.27" y1="144.10" y2="144.10" stroke="#242424" stroke-width="1.25"/>
<line x1="317.84" x2="317.84" y1="131.50" y2="195.80" stroke="#242424" stroke-width="1.25"/>
<line x1="302.74" x2="332.94" y1="131.50" y2="131.50" stroke="#242424" stroke-width="1.25"/>
<line x1="302.74" x2="332.94" y1="195.80" y2="195.80" stroke="#242424" stroke-width="1.25"/>
<line x1="418.51" x2="418.51" y1="20.40" y2="102.20" stroke="#242424" stroke-width="1.25"/>
<line x1="403.41" x2="433.61" y1="20.40" y2="20.40" stroke="#242424" stroke-width="1.25"/>
<line x1="403.41" x2="433.61" y1="102.20" y2="102.20" stroke="#242424" stroke-width="1.25"/>
<line x1="519.18" x2="519.18" y1="170.50" y2="261.30" stroke="#242424" stroke-width="1.25"/>
<line x1="504.08" x2="534.28" y1="170.50" y2="170.50" stroke="#242424" stroke-width="1.25"/>
<line x1="504.08" x2="534.28" y1="261.30" y2="261.30" stroke="#242424" stroke-width="1.25"/>
<line x1="619.85" x2="619.85" y1="208.90" y2="289.50" stroke="#242424" stroke-width="1.25"/>
<line x1="604.75" x2="634.95" y1="208.90" y2="208.90" stroke="#242424" stroke-width="1.25"/>
<line x1="604.75" x2="634.95" y1="289.50" y2="289.50" stroke="#242424" stroke-width="1.25"/>
<line x1="56.0" x2="680.7" y1="302.9" y2="302.9" stroke="#e6e7e7" stroke-width="2.2"/>
<line x1="116.50" x2="116.50" y1="303" y2="305.8" stroke="#d6d6d6" stroke-width="0.9"/>
<line x1="217.17" x2="217.17" y1="303" y2="305.8" stroke="#d6d6d6" stroke-width="0.9"/>
<line x1="317.84" x2="317.84" y1="303" y2="305.8" stroke="#d6d6d6" stroke-width="0.9"/>
<line x1="418.51" x2="418.51" y1="303" y2="305.8" stroke="#d6d6d6" stroke-width="0.9"/>
<line x1="519.18" x2="519.18" y1="303" y2="305.8" stroke="#d6d6d6" stroke-width="0.9"/>
<line x1="619.85" x2="619.85" y1="303" y2="305.8" stroke="#d6d6d6" stroke-width="0.9"/>
<path d="M56.5,302.6 V4.5 H680.2 V302.6" fill="none" stroke="#cfcfcf" stroke-width="1.2"/>
<line x1="53.9" x2="56.5" y1="235.60" y2="235.60" stroke="#bdbdbd" stroke-width="0.8"/>
<text x="52.9" y="239.90" text-anchor="end" font-size="11.8" fill="#444">0.025</text>
<line x1="53.9" x2="56.5" y1="153.60" y2="153.60" stroke="#bdbdbd" stroke-width="0.8"/>
<text x="52.9" y="157.90" text-anchor="end" font-size="11.8" fill="#444">0.050</text>
<line x1="53.9" x2="56.5" y1="71.60" y2="71.60" stroke="#bdbdbd" stroke-width="0.8"/>
<text x="52.9" y="75.90" text-anchor="end" font-size="11.8" fill="#444">0.075</text>
<text transform="translate(16.6,153.55) rotate(-90)" text-anchor="middle" font-size="15.8" fill="#000">Sum of Variances</text>
<text x="3" y="18.8" font-size="18.6" font-weight="bold" fill="#000">A</text>
<line x1="56.5" x2="680.2" y1="563.75" y2="563.75" stroke="#eaeaea" stroke-width="0.8"/>
<line x1="56.5" x2="680.2" y1="483.05" y2="483.05" stroke="#eaeaea" stroke-width="0.8"/>
<line x1="56.5" x2="680.2" y1="402.35" y2="402.35" stroke="#eaeaea" stroke-width="0.8"/>
<line x1="56.5" x2="680.2" y1="321.65" y2="321.65" stroke="#eaeaea" stroke-width="0.8"/>
<line x1="56.5" x2="680.2" y1="604.10" y2="604.10" stroke="#ebebeb" stroke-width="0.9"/>
<line x1="56.5" x2="680.2" y1="523.40" y2="523.40" stroke="#ebebeb" stroke-width="0.9"/>
<line x1="56.5" x2="680.2" y1="442.70" y2="442.70" stroke="#ebebeb" stroke-width="0.9"/>
<line x1="56.5" x2="680.2" y1="362.00" y2="362.00" stroke="#ebebeb" stroke-width="0.9"/>
<line x1="116.50" x2="116.50" y1="313.5" y2="612.0" stroke="#ebebeb" stroke-width="0.9"/>
<line x1="217.17" x2="217.17" y1="313.5" y2="612.0" stroke="#ebebeb" stroke-width="0.9"/>
<line x1="317.84" x2="317.84" y1="313.5" y2="612.0" stroke="#ebebeb" stroke-width="0.9"/>
<line x1="418.51" x2="418.51" y1="313.5" y2="612.0" stroke="#ebebeb" stroke-width="0.9"/>
<line x1="519.18" x2="519.18" y1="313.5" y2="612.0" stroke="#ebebeb" stroke-width="0.9"/>
<line x1="619.85" x2="619.85" y1="313.5" y2="612.0" stroke="#ebebeb" stroke-width="0.9"/>
<circle cx="76.6" cy="364.5" r="1.9" fill="#d3d3d3"/>
<circle cx="78.8" cy="364.5" r="1.9" fill="#d3d3d3"/>
<circle cx="80.9" cy="364.5" r="1.9" fill="#d3d3d3"/>
<circle cx="83.2" cy="364.5" r="1.9" fill="#d3d3d3"/>
<circle cx="88.4" cy="364.5" r="1.9" fill="#d3d3d3"/>
<circle cx="97.6" cy="364.5" r="1.9" fill="#d3d3d3"/>
<circle cx="99.9" cy="364.5" r="1.9" fill="#d3d3d3"/>
<circle cx="105.5" cy="364.5" r="1.9" fill="#d3d3d3"/>
<circle cx="110.1" cy="364.5" r="1.9" fill="#d3d3d3"/>
<circle cx="112.7" cy="364.5" r="1.9" fill="#d3d3d3"/>
<circle cx="121.3" cy="364.5" r="1.9" fill="#d3d3d3"/>
<circle cx="123.9" cy="364.5" r="1.9" fill="#d3d3d3"/>
<circle cx="127.2" cy="364.5" r="1.9" fill="#d3d3d3"/>
<circle cx="143.6" cy="364.5" r="1.9" fill="#d3d3d3"/>
<circle cx="145.6" cy="364.5" r="1.9" fill="#d3d3d3"/>
<circle cx="148.2" cy="364.5" r="1.9" fill="#d3d3d3"/>
<circle cx="155.4" cy="364.5" r="1.9" fill="#d3d3d3"/>
<circle cx="76.6" cy="377.3" r="1.9" fill="#d3d3d3"/>
<circle cx="157.1" cy="377.3" r="1.9" fill="#d3d3d3"/>
<circle cx="85.1" cy="368.1" r="1.9" fill="#d3d3d3"/>
<circle cx="148.2" cy="368.1" r="1.9" fill="#d3d3d3"/>
<circle cx="87.1" cy="374.0" r="1.9" fill="#d3d3d3"/>
<circle cx="99.6" cy="376.0" r="1.9" fill="#d3d3d3"/>
<circle cx="108.1" cy="372.1" r="1.9" fill="#d3d3d3"/>
<circle cx="121.9" cy="372.1" r="1.9" fill="#d3d3d3"/>
<circle cx="129.2" cy="372.1" r="1.9" fill="#d3d3d3"/>
<circle cx="133.8" cy="372.1" r="1.9" fill="#d3d3d3"/>
<circle cx="147.5" cy="376.7" r="1.9" fill="#d3d3d3"/>
<circle cx="94.3" cy="384.6" r="1.9" fill="#d3d3d3"/>
<circle cx="100.9" cy="386.5" r="1.9" fill="#d3d3d3"/>
<circle cx="106.8" cy="383.2" r="1.9" fill="#d3d3d3"/>
<circle cx="120.0" cy="383.9" r="1.9" fill="#d3d3d3"/>
<circle cx="129.8" cy="386.5" r="1.9" fill="#d3d3d3"/>
<circle cx="139.7" cy="382.6" r="1.9" fill="#d3d3d3"/>
<circle cx="143.6" cy="384.6" r="1.9" fill="#d3d3d3"/>
<circle cx="147.5" cy="386.5" r="1.9" fill="#d3d3d3"/>
<circle cx="89.1" cy="388.5" r="1.9" fill="#d3d3d3"/>
<circle cx="92.4" cy="388.9" r="1.9" fill="#d3d3d3"/>
<circle cx="126.5" cy="389.8" r="1.9" fill="#d3d3d3"/>
<circle cx="81.2" cy="393.3" r="1.9" fill="#d3d3d3"/>
<circle cx="98.9" cy="394.6" r="1.9" fill="#d3d3d3"/>
<circle cx="104.2" cy="391.9" r="1.9" fill="#d3d3d3"/>
<circle cx="91.1" cy="399.2" r="1.9" fill="#d3d3d3"/>
<circle cx="98.3" cy="397.9" r="1.9" fill="#d3d3d3"/>
<circle cx="101.2" cy="399.2" r="1.9" fill="#d3d3d3"/>
<circle cx="115.4" cy="400.9" r="1.9" fill="#d3d3d3"/>
<circle cx="121.9" cy="398.8" r="1.9" fill="#d3d3d3"/>
<circle cx="124.3" cy="403.1" r="1.9" fill="#d3d3d3"/>
<circle cx="124.6" cy="407.4" r="1.9" fill="#d3d3d3"/>
<circle cx="131.4" cy="402.7" r="1.9" fill="#d3d3d3"/>
<circle cx="137.4" cy="397.2" r="1.9" fill="#d3d3d3"/>
<circle cx="140.1" cy="394.6" r="1.9" fill="#d3d3d3"/>
<circle cx="140.1" cy="401.4" r="1.9" fill="#d3d3d3"/>
<circle cx="155.7" cy="401.4" r="1.9" fill="#d3d3d3"/>
<circle cx="81.9" cy="407.1" r="1.9" fill="#d3d3d3"/>
<circle cx="88.4" cy="410.6" r="1.9" fill="#d3d3d3"/>
<circle cx="84.5" cy="414.3" r="1.9" fill="#d3d3d3"/>
<circle cx="87.5" cy="415.3" r="1.9" fill="#d3d3d3"/>
<circle cx="77.5" cy="421.2" r="1.9" fill="#d3d3d3"/>
<circle cx="116.9" cy="410.6" r="1.9" fill="#d3d3d3"/>
<circle cx="136.8" cy="417.6" r="1.9" fill="#d3d3d3"/>
<circle cx="141.6" cy="415.6" r="1.9" fill="#d3d3d3"/>
<circle cx="119.0" cy="424.1" r="1.9" fill="#d3d3d3"/>
<circle cx="138.0" cy="429.0" r="1.9" fill="#d3d3d3"/>
<circle cx="108.5" cy="378.4" r="1.9" fill="#d3d3d3"/>
<circle cx="87.0" cy="382.9" r="1.9" fill="#d3d3d3"/>
<circle cx="83.9" cy="372.0" r="1.9" fill="#d3d3d3"/>
<circle cx="94.8" cy="373.8" r="1.9" fill="#d3d3d3"/>
<circle cx="177.9" cy="326.3" r="1.9" fill="#d3d3d3"/>
<circle cx="179.9" cy="326.3" r="1.9" fill="#d3d3d3"/>
<circle cx="181.9" cy="326.3" r="1.9" fill="#d3d3d3"/>
<circle cx="185.1" cy="326.3" r="1.9" fill="#d3d3d3"/>
<circle cx="186.5" cy="326.3" r="1.9" fill="#d3d3d3"/>
<circle cx="191.1" cy="326.3" r="1.9" fill="#d3d3d3"/>
<circle cx="197.0" cy="326.3" r="1.9" fill="#d3d3d3"/>
<circle cx="198.9" cy="326.3" r="1.9" fill="#d3d3d3"/>
<circle cx="204.2" cy="326.3" r="1.9" fill="#d3d3d3"/>
<circle cx="208.1" cy="326.3" r="1.9" fill="#d3d3d3"/>
<circle cx="211.4" cy="326.3" r="1.9" fill="#d3d3d3"/>
<circle cx="219.3" cy="326.3" r="1.9" fill="#d3d3d3"/>
<circle cx="222.6" cy="326.3" r="1.9" fill="#d3d3d3"/>
<circle cx="225.9" cy="326.3" r="1.9" fill="#d3d3d3"/>
<circle cx="237.0" cy="326.3" r="1.9" fill="#d3d3d3"/>
<circle cx="239.0" cy="326.3" r="1.9" fill="#d3d3d3"/>
<circle cx="241.6" cy="326.3" r="1.9" fill="#d3d3d3"/>
<circle cx="244.3" cy="326.3" r="1.9" fill="#d3d3d3"/>
<circle cx="250.8" cy="326.3" r="1.9" fill="#d3d3d3"/>
<circle cx="258.1" cy="340.4" r="1.9" fill="#d3d3d3"/>
<circle cx="178.6" cy="345.0" r="1.9" fill="#d3d3d3"/>
<circle cx="180.5" cy="353.5" r="1.9" fill="#d3d3d3"/>
<circle cx="204.2" cy="352.8" r="1.9" fill="#d3d3d3"/>
<circle cx="211.2" cy="353.9" r="1.9" fill="#d3d3d3"/>
<circle cx="236.4" cy="353.1" r="1.9" fill="#d3d3d3"/>
<circle cx="236.6" cy="356.8" r="1.9" fill="#d3d3d3"/>
<circle cx="225.9" cy="357.4" r="1.9" fill="#d3d3d3"/>
<circle cx="249.5" cy="353.5" r="1.9" fill="#d3d3d3"/>
<circle cx="251.5" cy="355.5" r="1.9" fill="#d3d3d3"/>
<circle cx="231.8" cy="348.9" r="1.9" fill="#d3d3d3"/>
<circle cx="199.6" cy="348.9" r="1.9" fill="#d3d3d3"/>
<circle cx="202.9" cy="349.6" r="1.9" fill="#d3d3d3"/>
<circle cx="209.4" cy="347.6" r="1.9" fill="#d3d3d3"/>
<circle cx="188.4" cy="331.8" r="1.9" fill="#d3d3d3"/>
<circle cx="200.2" cy="332.5" r="1.9" fill="#d3d3d3"/>
<circle cx="204.8" cy="331.2" r="1.9" fill="#d3d3d3"/>
<circle cx="214.0" cy="331.8" r="1.9" fill="#d3d3d3"/>
<circle cx="225.2" cy="332.5" r="1.9" fill="#d3d3d3"/>
<circle cx="232.4" cy="332.5" r="1.9" fill="#d3d3d3"/>
<circle cx="240.3" cy="333.1" r="1.9" fill="#d3d3d3"/>
<circle cx="245.6" cy="332.5" r="1.9" fill="#d3d3d3"/>
<circle cx="252.1" cy="333.8" r="1.9" fill="#d3d3d3"/>
<circle cx="182.5" cy="341.0" r="1.9" fill="#d3d3d3"/>
<circle cx="189.1" cy="341.0" r="1.9" fill="#d3d3d3"/>
<circle cx="197.0" cy="343.0" r="1.9" fill="#d3d3d3"/>
<circle cx="200.9" cy="341.0" r="1.9" fill="#d3d3d3"/>
<circle cx="204.2" cy="340.4" r="1.9" fill="#d3d3d3"/>
<circle cx="210.1" cy="340.4" r="1.9" fill="#d3d3d3"/>
<circle cx="221.3" cy="346.9" r="1.9" fill="#d3d3d3"/>
<circle cx="235.7" cy="346.9" r="1.9" fill="#d3d3d3"/>
<circle cx="242.3" cy="345.0" r="1.9" fill="#d3d3d3"/>
<circle cx="246.9" cy="339.7" r="1.9" fill="#d3d3d3"/>
<circle cx="250.8" cy="339.7" r="1.9" fill="#d3d3d3"/>
<circle cx="191.1" cy="372.3" r="1.9" fill="#d3d3d3"/>
<circle cx="213.4" cy="372.3" r="1.9" fill="#d3d3d3"/>
<circle cx="213.8" cy="376.3" r="1.9" fill="#d3d3d3"/>
<circle cx="238.6" cy="372.3" r="1.9" fill="#d3d3d3"/>
<circle cx="229.5" cy="378.2" r="1.9" fill="#d3d3d3"/>
<circle cx="234.8" cy="379.6" r="1.9" fill="#d3d3d3"/>
<circle cx="197.0" cy="386.1" r="1.9" fill="#d3d3d3"/>
<circle cx="189.1" cy="388.8" r="1.9" fill="#d3d3d3"/>
<circle cx="228.2" cy="386.1" r="1.9" fill="#d3d3d3"/>
<circle cx="224.6" cy="389.4" r="1.9" fill="#d3d3d3"/>
<circle cx="227.2" cy="389.2" r="1.9" fill="#d3d3d3"/>
<circle cx="234.7" cy="390.1" r="1.9" fill="#d3d3d3"/>
<circle cx="209.4" cy="401.5" r="1.9" fill="#d3d3d3"/>
<circle cx="223.2" cy="408.5" r="1.9" fill="#d3d3d3"/>
<circle cx="279.3" cy="433.5" r="1.9" fill="#d3d3d3"/>
<circle cx="284.6" cy="433.5" r="1.9" fill="#d3d3d3"/>
<circle cx="305.8" cy="433.5" r="1.9" fill="#d3d3d3"/>
<circle cx="309.1" cy="433.5" r="1.9" fill="#d3d3d3"/>
<circle cx="312.4" cy="433.5" r="1.9" fill="#d3d3d3"/>
<circle cx="324.2" cy="433.5" r="1.9" fill="#d3d3d3"/>
<circle cx="336.7" cy="433.5" r="1.9" fill="#d3d3d3"/>
<circle cx="343.9" cy="433.5" r="1.9" fill="#d3d3d3"/>
<circle cx="354.5" cy="433.5" r="1.9" fill="#d3d3d3"/>
<circle cx="278.9" cy="436.9" r="1.9" fill="#d3d3d3"/>
<circle cx="329.5" cy="436.5" r="1.9" fill="#d3d3d3"/>
<circle cx="349.0" cy="436.5" r="1.9" fill="#d3d3d3"/>
<circle cx="357.7" cy="454.3" r="1.9" fill="#d3d3d3"/>
<circle cx="280.2" cy="461.9" r="1.9" fill="#d3d3d3"/>
<circle cx="285.9" cy="464.8" r="1.9" fill="#d3d3d3"/>
<circle cx="289.8" cy="466.4" r="1.9" fill="#d3d3d3"/>
<circle cx="285.2" cy="469.0" r="1.9" fill="#d3d3d3"/>
<circle cx="292.7" cy="463.5" r="1.9" fill="#d3d3d3"/>
<circle cx="294.7" cy="459.5" r="1.9" fill="#d3d3d3"/>
<circle cx="302.6" cy="460.2" r="1.9" fill="#d3d3d3"/>
<circle cx="300.9" cy="464.8" r="1.9" fill="#d3d3d3"/>
<circle cx="310.4" cy="462.4" r="1.9" fill="#d3d3d3"/>
<circle cx="312.4" cy="462.4" r="1.9" fill="#d3d3d3"/>
<circle cx="326.2" cy="462.8" r="1.9" fill="#d3d3d3"/>
<circle cx="338.4" cy="461.9" r="1.9" fill="#d3d3d3"/>
<circle cx="342.4" cy="461.9" r="1.9" fill="#d3d3d3"/>
<circle cx="342.0" cy="466.1" r="1.9" fill="#d3d3d3"/>
<circle cx="335.4" cy="466.8" r="1.9" fill="#d3d3d3"/>
<circle cx="344.0" cy="471.1" r="1.9" fill="#d3d3d3"/>
<circle cx="351.6" cy="463.2" r="1.9" fill="#d3d3d3"/>
<circle cx="352.5" cy="460.8" r="1.9" fill="#d3d3d3"/>
<circle cx="318.1" cy="470.0" r="1.9" fill="#d3d3d3"/>
<circle cx="332.1" cy="475.0" r="1.9" fill="#d3d3d3"/>
<circle cx="300.9" cy="478.6" r="1.9" fill="#d3d3d3"/>
<circle cx="293.4" cy="492.4" r="1.9" fill="#d3d3d3"/>
<circle cx="315.0" cy="489.8" r="1.9" fill="#d3d3d3"/>
<circle cx="287.5" cy="455.6" r="1.9" fill="#d3d3d3"/>
<circle cx="294.0" cy="440.5" r="1.9" fill="#d3d3d3"/>
<circle cx="299.3" cy="440.5" r="1.9" fill="#d3d3d3"/>
<circle cx="307.8" cy="440.5" r="1.9" fill="#d3d3d3"/>
<circle cx="312.4" cy="440.5" r="1.9" fill="#d3d3d3"/>
<circle cx="324.2" cy="440.5" r="1.9" fill="#d3d3d3"/>
<circle cx="330.8" cy="441.1" r="1.9" fill="#d3d3d3"/>
<circle cx="341.3" cy="441.1" r="1.9" fill="#d3d3d3"/>
<circle cx="345.9" cy="440.5" r="1.9" fill="#d3d3d3"/>
<circle cx="351.8" cy="440.5" r="1.9" fill="#d3d3d3"/>
<circle cx="328.2" cy="447.1" r="1.9" fill="#d3d3d3"/>
<circle cx="340.0" cy="447.1" r="1.9" fill="#d3d3d3"/>
<circle cx="347.9" cy="446.4" r="1.9" fill="#d3d3d3"/>
<circle cx="304.5" cy="450.3" r="1.9" fill="#d3d3d3"/>
<circle cx="322.9" cy="450.3" r="1.9" fill="#d3d3d3"/>
<circle cx="307.8" cy="453.6" r="1.9" fill="#d3d3d3"/>
<circle cx="322.3" cy="454.3" r="1.9" fill="#d3d3d3"/>
<circle cx="329.5" cy="454.3" r="1.9" fill="#d3d3d3"/>
<circle cx="334.8" cy="454.3" r="1.9" fill="#d3d3d3"/>
<circle cx="340.7" cy="454.9" r="1.9" fill="#d3d3d3"/>
<circle cx="354.5" cy="449.7" r="1.9" fill="#d3d3d3"/>
<circle cx="305.9" cy="441.0" r="1.9" fill="#d3d3d3"/>
<circle cx="280.6" cy="442.5" r="1.9" fill="#d3d3d3"/>
<circle cx="288.2" cy="445.7" r="1.9" fill="#d3d3d3"/>
<circle cx="282.5" cy="453.4" r="1.9" fill="#d3d3d3"/>
<circle cx="384.8" cy="373.2" r="1.9" fill="#d3d3d3"/>
<circle cx="392.4" cy="373.2" r="1.9" fill="#d3d3d3"/>
<circle cx="416.4" cy="373.2" r="1.9" fill="#d3d3d3"/>
<circle cx="418.3" cy="373.2" r="1.9" fill="#d3d3d3"/>
<circle cx="422.3" cy="373.2" r="1.9" fill="#d3d3d3"/>
<circle cx="424.9" cy="373.2" r="1.9" fill="#d3d3d3"/>
<circle cx="426.9" cy="373.2" r="1.9" fill="#d3d3d3"/>
<circle cx="438.7" cy="373.2" r="1.9" fill="#d3d3d3"/>
<circle cx="442.0" cy="373.2" r="1.9" fill="#d3d3d3"/>
<circle cx="390.1" cy="379.4" r="1.9" fill="#d3d3d3"/>
<circle cx="398.6" cy="379.4" r="1.9" fill="#d3d3d3"/>
<circle cx="413.5" cy="379.4" r="1.9" fill="#d3d3d3"/>
<circle cx="436.5" cy="379.4" r="1.9" fill="#d3d3d3"/>
<circle cx="382.2" cy="382.4" r="1.9" fill="#d3d3d3"/>
<circle cx="408.5" cy="382.4" r="1.9" fill="#d3d3d3"/>
<circle cx="424.2" cy="382.4" r="1.9" fill="#d3d3d3"/>
<circle cx="432.8" cy="382.4" r="1.9" fill="#d3d3d3"/>
<circle cx="440.0" cy="382.4" r="1.9" fill="#d3d3d3"/>
<circle cx="444.0" cy="382.4" r="1.9" fill="#d3d3d3"/>
<circle cx="456.8" cy="382.4" r="1.9" fill="#d3d3d3"/>
<circle cx="458.4" cy="398.2" r="1.9" fill="#d3d3d3"/>
<circle cx="379.3" cy="402.5" r="1.9" fill="#d3d3d3"/>
<circle cx="394.0" cy="406.7" r="1.9" fill="#d3d3d3"/>
<circle cx="398.0" cy="408.0" r="1.9" fill="#d3d3d3"/>
<circle cx="404.5" cy="412.2" r="1.9" fill="#d3d3d3"/>
<circle cx="407.4" cy="411.3" r="1.9" fill="#d3d3d3"/>
<circle cx="407.8" cy="412.6" r="1.9" fill="#d3d3d3"/>
<circle cx="414.0" cy="410.9" r="1.9" fill="#d3d3d3"/>
<circle cx="421.6" cy="410.9" r="1.9" fill="#d3d3d3"/>
<circle cx="424.2" cy="410.9" r="1.9" fill="#d3d3d3"/>
<circle cx="433.4" cy="408.7" r="1.9" fill="#d3d3d3"/>
<circle cx="439.4" cy="410.9" r="1.9" fill="#d3d3d3"/>
<circle cx="443.9" cy="413.3" r="1.9" fill="#d3d3d3"/>
<circle cx="444.6" cy="406.1" r="1.9" fill="#d3d3d3"/>
<circle cx="391.4" cy="416.0" r="1.9" fill="#d3d3d3"/>
<circle cx="420.6" cy="415.3" r="1.9" fill="#d3d3d3"/>
<circle cx="409.5" cy="419.2" r="1.9" fill="#d3d3d3"/>
<circle cx="430.8" cy="422.8" r="1.9" fill="#d3d3d3"/>
<circle cx="428.8" cy="427.5" r="1.9" fill="#d3d3d3"/>
<circle cx="444.6" cy="426.2" r="1.9" fill="#d3d3d3"/>
<circle cx="388.5" cy="427.5" r="1.9" fill="#d3d3d3"/>
<circle cx="417.0" cy="426.2" r="1.9" fill="#d3d3d3"/>
<circle cx="425.6" cy="431.0" r="1.9" fill="#d3d3d3"/>
<circle cx="379.3" cy="441.3" r="1.9" fill="#d3d3d3"/>
<circle cx="406.5" cy="445.9" r="1.9" fill="#d3d3d3"/>
<circle cx="395.1" cy="449.0" r="1.9" fill="#d3d3d3"/>
<circle cx="384.8" cy="385.7" r="1.9" fill="#d3d3d3"/>
<circle cx="388.1" cy="389.0" r="1.9" fill="#d3d3d3"/>
<circle cx="403.9" cy="387.0" r="1.9" fill="#d3d3d3"/>
<circle cx="401.2" cy="391.0" r="1.9" fill="#d3d3d3"/>
<circle cx="407.2" cy="391.6" r="1.9" fill="#d3d3d3"/>
<circle cx="414.4" cy="390.3" r="1.9" fill="#d3d3d3"/>
<circle cx="423.6" cy="389.7" r="1.9" fill="#d3d3d3"/>
<circle cx="432.8" cy="386.4" r="1.9" fill="#d3d3d3"/>
<circle cx="440.0" cy="389.0" r="1.9" fill="#d3d3d3"/>
<circle cx="437.4" cy="392.9" r="1.9" fill="#d3d3d3"/>
<circle cx="386.1" cy="402.8" r="1.9" fill="#d3d3d3"/>
<circle cx="399.3" cy="402.1" r="1.9" fill="#d3d3d3"/>
<circle cx="402.6" cy="402.8" r="1.9" fill="#d3d3d3"/>
<circle cx="413.1" cy="401.5" r="1.9" fill="#d3d3d3"/>
<circle cx="425.6" cy="402.1" r="1.9" fill="#d3d3d3"/>
<circle cx="436.1" cy="402.1" r="1.9" fill="#d3d3d3"/>
<circle cx="441.3" cy="399.5" r="1.9" fill="#d3d3d3"/>
<circle cx="453.1" cy="404.1" r="1.9" fill="#d3d3d3"/>
<circle cx="392.1" cy="405.4" r="1.9" fill="#d3d3d3"/>
<circle cx="427.0" cy="388.1" r="1.9" fill="#d3d3d3"/>
<circle cx="400.1" cy="391.9" r="1.9" fill="#d3d3d3"/>
<circle cx="408.4" cy="387.6" r="1.9" fill="#d3d3d3"/>
<circle cx="444.5" cy="404.3" r="1.9" fill="#d3d3d3"/>
<circle cx="483.2" cy="523.9" r="1.9" fill="#d3d3d3"/>
<circle cx="485.8" cy="523.9" r="1.9" fill="#d3d3d3"/>
<circle cx="488.5" cy="523.9" r="1.9" fill="#d3d3d3"/>
<circle cx="491.1" cy="523.9" r="1.9" fill="#d3d3d3"/>
<circle cx="493.7" cy="523.9" r="1.9" fill="#d3d3d3"/>
<circle cx="496.3" cy="523.9" r="1.9" fill="#d3d3d3"/>
<circle cx="499.0" cy="523.9" r="1.9" fill="#d3d3d3"/>
<circle cx="510.8" cy="523.9" r="1.9" fill="#d3d3d3"/>
<circle cx="513.4" cy="523.9" r="1.9" fill="#d3d3d3"/>
<circle cx="517.4" cy="523.9" r="1.9" fill="#d3d3d3"/>
<circle cx="521.3" cy="523.9" r="1.9" fill="#d3d3d3"/>
<circle cx="525.2" cy="523.9" r="1.9" fill="#d3d3d3"/>
<circle cx="529.2" cy="523.9" r="1.9" fill="#d3d3d3"/>
<circle cx="531.8" cy="523.9" r="1.9" fill="#d3d3d3"/>
<circle cx="535.8" cy="523.9" r="1.9" fill="#d3d3d3"/>
<circle cx="546.3" cy="523.9" r="1.9" fill="#d3d3d3"/>
<circle cx="551.5" cy="523.9" r="1.9" fill="#d3d3d3"/>
<circle cx="554.1" cy="523.9" r="1.9" fill="#d3d3d3"/>
<circle cx="479.5" cy="531.4" r="1.9" fill="#d3d3d3"/>
<circle cx="558.7" cy="528.1" r="1.9" fill="#d3d3d3"/>
<circle cx="487.1" cy="528.1" r="1.9" fill="#d3d3d3"/>
<circle cx="491.1" cy="528.1" r="1.9" fill="#d3d3d3"/>
<circle cx="493.7" cy="528.1" r="1.9" fill="#d3d3d3"/>
<circle cx="500.3" cy="528.1" r="1.9" fill="#d3d3d3"/>
<circle cx="517.4" cy="528.1" r="1.9" fill="#d3d3d3"/>
<circle cx="523.3" cy="528.1" r="1.9" fill="#d3d3d3"/>
<circle cx="526.6" cy="528.1" r="1.9" fill="#d3d3d3"/>
<circle cx="538.4" cy="528.1" r="1.9" fill="#d3d3d3"/>
<circle cx="542.3" cy="528.1" r="1.9" fill="#d3d3d3"/>
<circle cx="549.5" cy="528.1" r="1.9" fill="#d3d3d3"/>
<circle cx="553.5" cy="528.1" r="1.9" fill="#d3d3d3"/>
<circle cx="485.2" cy="536.0" r="1.9" fill="#d3d3d3"/>
<circle cx="500.0" cy="534.7" r="1.9" fill="#d3d3d3"/>
<circle cx="536.0" cy="535.0" r="1.9" fill="#d3d3d3"/>
<circle cx="549.9" cy="537.3" r="1.9" fill="#d3d3d3"/>
<circle cx="486.5" cy="563.9" r="1.9" fill="#d3d3d3"/>
<circle cx="499.6" cy="563.9" r="1.9" fill="#d3d3d3"/>
<circle cx="505.5" cy="563.9" r="1.9" fill="#d3d3d3"/>
<circle cx="508.4" cy="563.9" r="1.9" fill="#d3d3d3"/>
<circle cx="521.3" cy="563.9" r="1.9" fill="#d3d3d3"/>
<circle cx="527.9" cy="563.9" r="1.9" fill="#d3d3d3"/>
<circle cx="535.8" cy="563.9" r="1.9" fill="#d3d3d3"/>
<circle cx="545.6" cy="563.9" r="1.9" fill="#d3d3d3"/>
<circle cx="552.8" cy="563.9" r="1.9" fill="#d3d3d3"/>
<circle cx="559.7" cy="563.9" r="1.9" fill="#d3d3d3"/>
<circle cx="479.5" cy="567.3" r="1.9" fill="#d3d3d3"/>
<circle cx="486.1" cy="566.0" r="1.9" fill="#d3d3d3"/>
<circle cx="491.7" cy="567.8" r="1.9" fill="#d3d3d3"/>
<circle cx="499.6" cy="569.1" r="1.9" fill="#d3d3d3"/>
<circle cx="505.5" cy="568.2" r="1.9" fill="#d3d3d3"/>
<circle cx="506.8" cy="568.9" r="1.9" fill="#d3d3d3"/>
<circle cx="510.8" cy="570.2" r="1.9" fill="#d3d3d3"/>
<circle cx="511.4" cy="566.5" r="1.9" fill="#d3d3d3"/>
<circle cx="516.7" cy="567.6" r="1.9" fill="#d3d3d3"/>
<circle cx="522.4" cy="569.5" r="1.9" fill="#d3d3d3"/>
<circle cx="522.6" cy="572.2" r="1.9" fill="#d3d3d3"/>
<circle cx="530.8" cy="570.2" r="1.9" fill="#d3d3d3"/>
<circle cx="541.3" cy="567.3" r="1.9" fill="#d3d3d3"/>
<circle cx="554.8" cy="567.8" r="1.9" fill="#d3d3d3"/>
<circle cx="481.9" cy="575.2" r="1.9" fill="#d3d3d3"/>
<circle cx="484.8" cy="578.7" r="1.9" fill="#d3d3d3"/>
<circle cx="538.4" cy="576.1" r="1.9" fill="#d3d3d3"/>
<circle cx="546.9" cy="575.7" r="1.9" fill="#d3d3d3"/>
<circle cx="521.3" cy="573.5" r="1.9" fill="#d3d3d3"/>
<circle cx="579.9" cy="550.9" r="1.9" fill="#d3d3d3"/>
<circle cx="586.5" cy="550.9" r="1.9" fill="#d3d3d3"/>
<circle cx="593.4" cy="550.9" r="1.9" fill="#d3d3d3"/>
<circle cx="598.3" cy="550.9" r="1.9" fill="#d3d3d3"/>
<circle cx="602.2" cy="550.9" r="1.9" fill="#d3d3d3"/>
<circle cx="614.7" cy="550.9" r="1.9" fill="#d3d3d3"/>
<circle cx="622.6" cy="550.9" r="1.9" fill="#d3d3d3"/>
<circle cx="627.2" cy="550.9" r="1.9" fill="#d3d3d3"/>
<circle cx="630.5" cy="550.9" r="1.9" fill="#d3d3d3"/>
<circle cx="639.7" cy="550.9" r="1.9" fill="#d3d3d3"/>
<circle cx="646.9" cy="550.9" r="1.9" fill="#d3d3d3"/>
<circle cx="650.2" cy="550.9" r="1.9" fill="#d3d3d3"/>
<circle cx="659.1" cy="550.9" r="1.9" fill="#d3d3d3"/>
<circle cx="588.5" cy="555.5" r="1.9" fill="#d3d3d3"/>
<circle cx="597.7" cy="555.5" r="1.9" fill="#d3d3d3"/>
<circle cx="608.2" cy="555.5" r="1.9" fill="#d3d3d3"/>
<circle cx="613.4" cy="555.5" r="1.9" fill="#d3d3d3"/>
<circle cx="623.9" cy="554.8" r="1.9" fill="#d3d3d3"/>
<circle cx="633.8" cy="555.5" r="1.9" fill="#d3d3d3"/>
<circle cx="637.1" cy="555.5" r="1.9" fill="#d3d3d3"/>
<circle cx="641.0" cy="555.5" r="1.9" fill="#d3d3d3"/>
<circle cx="645.0" cy="555.5" r="1.9" fill="#d3d3d3"/>
<circle cx="652.8" cy="555.5" r="1.9" fill="#d3d3d3"/>
<circle cx="586.5" cy="562.1" r="1.9" fill="#d3d3d3"/>
<circle cx="604.2" cy="562.7" r="1.9" fill="#d3d3d3"/>
<circle cx="610.1" cy="561.4" r="1.9" fill="#d3d3d3"/>
<circle cx="623.9" cy="562.1" r="1.9" fill="#d3d3d3"/>
<circle cx="629.2" cy="562.1" r="1.9" fill="#d3d3d3"/>
<circle cx="641.7" cy="562.7" r="1.9" fill="#d3d3d3"/>
<circle cx="659.4" cy="560.7" r="1.9" fill="#d3d3d3"/>
<circle cx="580.8" cy="569.3" r="1.9" fill="#d3d3d3"/>
<circle cx="581.2" cy="571.9" r="1.9" fill="#d3d3d3"/>
<circle cx="583.9" cy="573.9" r="1.9" fill="#d3d3d3"/>
<circle cx="593.1" cy="566.0" r="1.9" fill="#d3d3d3"/>
<circle cx="642.3" cy="566.0" r="1.9" fill="#d3d3d3"/>
<circle cx="652.2" cy="566.7" r="1.9" fill="#d3d3d3"/>
<circle cx="588.7" cy="576.1" r="1.9" fill="#d3d3d3"/>
<circle cx="582.1" cy="578.7" r="1.9" fill="#d3d3d3"/>
<circle cx="605.5" cy="571.6" r="1.9" fill="#d3d3d3"/>
<circle cx="611.8" cy="577.4" r="1.9" fill="#d3d3d3"/>
<circle cx="601.3" cy="580.4" r="1.9" fill="#d3d3d3"/>
<circle cx="618.0" cy="581.4" r="1.9" fill="#d3d3d3"/>
<circle cx="622.0" cy="576.1" r="1.9" fill="#d3d3d3"/>
<circle cx="630.2" cy="573.5" r="1.9" fill="#d3d3d3"/>
<circle cx="632.5" cy="573.5" r="1.9" fill="#d3d3d3"/>
<circle cx="647.3" cy="570.3" r="1.9" fill="#d3d3d3"/>
<circle cx="649.9" cy="576.1" r="1.9" fill="#d3d3d3"/>
<circle cx="650.5" cy="580.4" r="1.9" fill="#d3d3d3"/>
<circle cx="655.7" cy="581.1" r="1.9" fill="#d3d3d3"/>
<circle cx="657.4" cy="580.4" r="1.9" fill="#d3d3d3"/>
<circle cx="582.5" cy="589.6" r="1.9" fill="#d3d3d3"/>
<circle cx="606.2" cy="589.6" r="1.9" fill="#d3d3d3"/>
<circle cx="644.3" cy="589.6" r="1.9" fill="#d3d3d3"/>
<circle cx="615.8" cy="598.8" r="1.9" fill="#d3d3d3"/>
<circle cx="634.7" cy="583.1" r="1.9" fill="#d3d3d3"/>
<rect x="78.75" y="368.70" width="75.50" height="23.30" fill="rgba(89,60,108,0.80)" stroke="#333" stroke-width="1.1"/>
<line x1="78.75" x2="154.25" y1="380.40" y2="380.40" stroke="#303030" stroke-width="1.9"/>
<circle cx="116.50" cy="429.00" r="1.9" fill="#2a2a2a"/>
<rect x="179.42" y="328.50" width="75.50" height="20.30" fill="rgba(105,184,151,0.80)" stroke="#333" stroke-width="1.1"/>
<line x1="179.42" x2="254.92" y1="337.80" y2="337.80" stroke="#303030" stroke-width="1.9"/>
<circle cx="217.17" cy="379.60" r="1.9" fill="#2a2a2a"/>
<circle cx="217.17" cy="386.10" r="1.9" fill="#2a2a2a"/>
<circle cx="217.17" cy="388.10" r="1.9" fill="#2a2a2a"/>
<circle cx="217.17" cy="390.10" r="1.9" fill="#2a2a2a"/>
<circle cx="217.17" cy="401.50" r="1.9" fill="#2a2a2a"/>
<circle cx="217.17" cy="408.50" r="1.9" fill="#2a2a2a"/>
<rect x="280.09" y="438.20" width="75.50" height="19.10" fill="rgba(249,231,111,0.80)" stroke="#333" stroke-width="1.1"/>
<line x1="280.09" x2="355.59" y1="444.10" y2="444.10" stroke="#303030" stroke-width="1.9"/>
<circle cx="317.84" cy="490.20" r="1.9" fill="#2a2a2a"/>
<circle cx="317.84" cy="492.30" r="1.9" fill="#2a2a2a"/>
<rect x="380.76" y="383.30" width="75.50" height="23.10" fill="rgba(93,136,159,0.80)" stroke="#333" stroke-width="1.1"/>
<line x1="380.76" x2="456.26" y1="396.80" y2="396.80" stroke="#303030" stroke-width="1.9"/>
<circle cx="418.51" cy="441.50" r="1.9" fill="#2a2a2a"/>
<circle cx="418.51" cy="446.20" r="1.9" fill="#2a2a2a"/>
<circle cx="418.51" cy="447.60" r="1.9" fill="#2a2a2a"/>
<circle cx="418.51" cy="449.30" r="1.9" fill="#2a2a2a"/>
<rect x="481.43" y="525.00" width="75.50" height="39.10" fill="rgba(96,93,155,0.80)" stroke="#333" stroke-width="1.1"/>
<line x1="481.43" x2="556.93" y1="531.00" y2="531.00" stroke="#303030" stroke-width="1.9"/>
<rect x="582.10" y="552.40" width="75.50" height="13.10" fill="rgba(159,206,124,0.80)" stroke="#333" stroke-width="1.1"/>
<line x1="582.10" x2="657.60" y1="559.20" y2="559.20" stroke="#303030" stroke-width="1.9"/>
<circle cx="619.85" cy="589.90" r="1.9" fill="#2a2a2a"/>
<circle cx="619.85" cy="598.70" r="1.9" fill="#2a2a2a"/>
<line x1="116.50" x2="116.50" y1="364.70" y2="424.40" stroke="#242424" stroke-width="1.25"/>
<line x1="101.40" x2="131.60" y1="364.70" y2="364.70" stroke="#242424" stroke-width="1.25"/>
<line x1="101.40" x2="131.60" y1="424.40" y2="424.40" stroke="#242424" stroke-width="1.25"/>
<line x1="217.17" x2="217.17" y1="326.70" y2="378.00" stroke="#242424" stroke-width="1.25"/>
<line x1="202.07" x2="232.27" y1="326.70" y2="326.70" stroke="#242424" stroke-width="1.25"/>
<line x1="202.07" x2="232.27" y1="378.00" y2="378.00" stroke="#242424" stroke-width="1.25"/>
<line x1="317.84" x2="317.84" y1="433.60" y2="478.50" stroke="#242424" stroke-width="1.25"/>
<line x1="302.74" x2="332.94" y1="433.60" y2="433.60" stroke="#242424" stroke-width="1.25"/>
<line x1="302.74" x2="332.94" y1="478.50" y2="478.50" stroke="#242424" stroke-width="1.25"/>
<line x1="418.51" x2="418.51" y1="373.30" y2="431.30" stroke="#242424" stroke-width="1.25"/>
<line x1="403.41" x2="433.61" y1="373.30" y2="373.30" stroke="#242424" stroke-width="1.25"/>
<line x1="403.41" x2="433.61" y1="431.30" y2="431.30" stroke="#242424" stroke-width="1.25"/>
<line x1="519.18" x2="519.18" y1="524.50" y2="578.70" stroke="#242424" stroke-width="1.25"/>
<line x1="504.08" x2="534.28" y1="524.50" y2="524.50" stroke="#242424" stroke-width="1.25"/>
<line x1="504.08" x2="534.28" y1="578.70" y2="578.70" stroke="#242424" stroke-width="1.25"/>
<line x1="619.85" x2="619.85" y1="551.20" y2="583.10" stroke="#242424" stroke-width="1.25"/>
<line x1="604.75" x2="634.95" y1="551.20" y2="551.20" stroke="#242424" stroke-width="1.25"/>
<line x1="604.75" x2="634.95" y1="583.10" y2="583.10" stroke="#242424" stroke-width="1.25"/>
<rect x="56.5" y="313.5" width="623.70" height="298.50" fill="none" stroke="#cfcfcf" stroke-width="1.2"/>
<line x1="53.9" x2="56.5" y1="604.10" y2="604.10" stroke="#bdbdbd" stroke-width="0.8"/>
<text x="52.9" y="608.40" text-anchor="end" font-size="11.8" fill="#444">0.5</text>
<line x1="53.9" x2="56.5" y1="523.40" y2="523.40" stroke="#bdbdbd" stroke-width="0.8"/>
<text x="52.9" y="527.70" text-anchor="end" font-size="11.8" fill="#444">1.0</text>
<line x1="53.9" x2="56.5" y1="442.70" y2="442.70" stroke="#bdbdbd" stroke-width="0.8"/>
<text x="52.9" y="447.00" text-anchor="end" font-size="11.8" fill="#444">1.5</text>
<line x1="53.9" x2="56.5" y1="362.00" y2="362.00" stroke="#bdbdbd" stroke-width="0.8"/>
<text x="52.9" y="366.30" text-anchor="end" font-size="11.8" fill="#444">2.0</text>
<text transform="translate(16.6,462.75) rotate(-90)" text-anchor="middle" font-size="15.8" fill="#000">Sum of Ranges</text>
<text x="3" y="330.6" font-size="18.6" font-weight="bold" fill="#000">B</text>
<line x1="116.50" x2="116.50" y1="612.0" y2="614.6" stroke="#bdbdbd" stroke-width="0.8"/>
<text transform="translate(116.50,651) rotate(-60)" text-anchor="middle" dy="4.2" font-size="11.8" fill="#444">Cambrian</text>
<line x1="217.17" x2="217.17" y1="612.0" y2="614.6" stroke="#bdbdbd" stroke-width="0.8"/>
<text transform="translate(217.17,651) rotate(-60)" text-anchor="middle" dy="4.2" font-size="11.8" fill="#444">Ordovician</text>
<line x1="317.84" x2="317.84" y1="612.0" y2="614.6" stroke="#bdbdbd" stroke-width="0.8"/>
<text transform="translate(317.84,651) rotate(-60)" text-anchor="middle" dy="4.2" font-size="11.8" fill="#444">Silurian</text>
<line x1="418.51" x2="418.51" y1="612.0" y2="614.6" stroke="#bdbdbd" stroke-width="0.8"/>
<text transform="translate(418.51,651) rotate(-60)" text-anchor="middle" dy="4.2" font-size="11.8" fill="#444">Devonian</text>
<line x1="519.18" x2="519.18" y1="612.0" y2="614.6" stroke="#bdbdbd" stroke-width="0.8"/>
<text transform="translate(519.18,651) rotate(-60)" text-anchor="middle" dy="4.2" font-size="11.8" fill="#444">Carboniferous</text>
<line x1="619.85" x2="619.85" y1="612.0" y2="614.6" stroke="#bdbdbd" stroke-width="0.8"/>
<text transform="translate(619.85,651) rotate(-60)" text-anchor="middle" dy="4.2" font-size="11.8" fill="#444">Permian</text>
<text x="368.8" y="700" text-anchor="middle" font-size="15.2" fill="#000">Geological Period</text>
</svg>
</body></html>
